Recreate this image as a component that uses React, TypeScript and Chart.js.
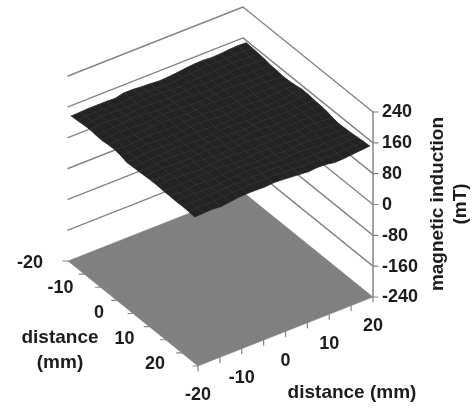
import React, { useEffect, useRef } from "react";
import { Chart, registerables } from "chart.js";

Chart.register(...registerables);

// ---- data ----
const distanceTickLabels = [-20, -10, 0, 10, 20];
const distanceTickMarks = [-20, -15, -10, -5, 0, 5, 10, 15, 20];
const inductionTickLabels = [240, 160, 80, 0, -80, -160, -240];
const gridA = [-19, -17.1, -15.2, -13.3, -11.4, -9.5, -7.6, -5.7, -3.8, -1.9, 0, 1.9, 3.8, 5.7, 7.6, 9.5, 11.4, 13.3, 15.2, 17.1, 19];
const gridB = [-20, -18, -16, -14, -12, -10, -8, -6, -4, -2, 0, 2, 4, 6, 8, 10, 12, 14, 16, 18, 20];
const inductionMT = [
  [143,144,145,145,145,144,149,149,147,146,144,145,147,150,152,153,151,152,154,155,154],
  [144,146,148,147,146,147,149,151,149,147,145,146,148,150,152,154,153,153,154,154,153],
  [146,147,149,150,148,147,148,150,151,149,147,146,149,151,150,152,154,155,153,153,152],
  [147,149,150,148,147,149,151,150,148,147,149,150,151,149,148,150,152,154,153,151,150],
  [145,146,148,149,151,150,148,146,147,149,151,149,147,146,148,151,153,151,149,148,147],
  [144,147,149,148,146,145,147,149,150,148,146,145,147,149,151,150,148,147,148,147,146],
  [146,148,146,145,147,149,150,148,146,145,147,149,150,148,146,147,149,150,148,146,144],
  [147,145,144,146,148,147,145,144,146,148,149,147,145,144,146,148,147,145,146,145,145],
  [144,143,145,147,146,144,143,145,147,148,146,144,143,145,147,146,144,145,147,148,147],
  [139,141,143,145,144,142,144,146,147,145,143,142,144,146,147,145,143,144,146,149,150],
  [140,141,142,143,145,146,145,143,142,144,146,147,145,143,144,146,147,146,147,150,150],
  [141,141,143,145,146,144,142,143,145,147,146,144,143,145,147,146,144,145,146,148,148],
  [142,144,145,143,142,144,146,147,145,143,142,144,146,147,145,143,144,146,147,148,147],
  [143,142,143,145,146,147,145,143,142,144,146,147,145,143,142,144,146,147,146,145,145],
  [143,145,146,144,143,142,144,146,147,145,143,142,144,146,145,143,142,144,145,143,141],
  [142,143,142,143,145,146,147,145,143,142,144,146,145,143,142,141,143,145,143,140,138],
  [142,141,143,145,144,143,145,147,146,144,143,144,143,141,142,144,143,141,140,139,139],
  [141,143,144,142,141,143,145,146,148,147,145,143,142,143,145,143,141,140,141,140,140],
  [142,141,142,143,144,145,146,148,147,146,147,145,143,142,141,142,141,140,142,143,142],
  [141,142,141,142,143,146,147,148,147,147,148,146,144,142,142,143,140,140,141,143,144],
  [140,141,142,140,143,146,147,147,146,148,147,145,143,141,143,142,138,139,141,143,145],
];

// ---- projection of (a, b, z) into the plane of the two linear scales ----
const CENTER_X = 220.5;
const CENTER_Y = 279;
const A_DX = 3.25;
const A_DY = 2.625;
const B_DX = 4.375;
const B_DY = -1.725;
const Z_SCALE = 185 / 480;

const project = (a: number, b: number, z: number) => ({
  x: CENTER_X + a * A_DX + b * B_DX,
  y: CENTER_Y + a * A_DY + b * B_DY - (z + 240) * Z_SCALE,
});

const AXIS_GREY = "#858585";
const FLOOR_GREY = "#808080";
const SURFACE_FILL = "#232323";
const MESH = "#353535";
const TEXT = "#1c1c1c";
const TICK_FONT = 'bold 18px "Liberation Sans", Arial, sans-serif';
const TITLE_FONT = 'bold 19px "Liberation Sans", Arial, sans-serif';

function line(data: { x: number; y: number }[], color: string, width: number, order: number, fill?: string) {
  return {
    data,
    showLine: true,
    pointRadius: 0,
    borderColor: color,
    borderWidth: width,
    backgroundColor: fill ?? "transparent",
    fill: fill ? "shape" : false,
    tension: 0,
    order,
    borderJoinStyle: "round" as const,
    borderCapStyle: "round" as const,
  };
}

function buildDatasets() {
  const ds: any[] = [];
  const zMax = inductionTickLabels[0];
  const zMin = inductionTickLabels[inductionTickLabels.length - 1];
  const lo = distanceTickMarks[0];
  const hi = distanceTickMarks[distanceTickMarks.length - 1];

  // back walls: one polyline per level
  for (const z of inductionTickLabels) {
    if (z === zMin) continue;
    ds.push(line([project(lo, lo, z), project(lo, hi, z), project(hi, hi, z)], AXIS_GREY, 1.4, 50));
  }
  // vertical axis and its ticks
  ds.push(line([project(hi, hi, zMin), project(hi, hi, zMax)], AXIS_GREY, 1.5, 50));
  for (const z of inductionTickLabels) {
    const p = project(hi, hi, z);
    ds.push(line([p, { x: p.x + 5, y: p.y }], AXIS_GREY, 1.2, 50));
  }
  // floor ticks
  for (const t of distanceTickMarks) {
    const p = project(t, lo, zMin);
    ds.push(line([p, { x: p.x - 5, y: p.y }], AXIS_GREY, 1.2, 45));
    const q = project(hi, t, zMin);
    ds.push(line([q, { x: q.x, y: q.y + 5 }], AXIS_GREY, 1.2, 45));
  }
  // floor (projection of the surface)
  ds.push(line([project(lo, lo, zMin), project(hi, lo, zMin), project(hi, hi, zMin), project(lo, hi, zMin), project(lo, lo, zMin)], FLOOR_GREY, 0.5, 40, FLOOR_GREY));

  // surface outline, filled
  const n = gridA.length - 1;
  const outline: { x: number; y: number }[] = [];
  for (let j = 0; j <= n; j++) outline.push(project(gridA[0], gridB[j], inductionMT[0][j]));
  for (let i = 1; i <= n; i++) outline.push(project(gridA[i], gridB[n], inductionMT[i][n]));
  for (let j = n - 1; j >= 0; j--) outline.push(project(gridA[n], gridB[j], inductionMT[n][j]));
  for (let i = n - 1; i >= 0; i--) outline.push(project(gridA[i], gridB[0], inductionMT[i][0]));
  ds.push(line(outline, SURFACE_FILL, 0.8, 30, SURFACE_FILL));

  // surface mesh
  for (let i = 1; i < n; i++) {
    ds.push(line(gridB.map((b, j) => project(gridA[i], b, inductionMT[i][j])), MESH, 0.8, 20));
  }
  for (let j = 1; j < n; j++) {
    ds.push(line(gridA.map((a, i) => project(a, gridB[j], inductionMT[i][j])), MESH, 0.8, 20));
  }
  return ds;
}

const textPlugin = {
  id: "axisText",
  afterDraw(chart: any) {
    const ctx: CanvasRenderingContext2D = chart.ctx;
    const sx = chart.scales.x;
    const sy = chart.scales.y;
    const lo = distanceTickMarks[0];
    const hi = distanceTickMarks[distanceTickMarks.length - 1];
    const zMin = inductionTickLabels[inductionTickLabels.length - 1];
    ctx.save();
    ctx.font = TICK_FONT;
    ctx.fillStyle = TEXT;

    ctx.textBaseline = "middle";
    ctx.textAlign = "right";
    for (const t of distanceTickLabels) {
      const p = project(t, lo, zMin);
      const k = t - lo;
      ctx.fillText(String(t), sx.getPixelForValue(p.x) - 25 - k * 0.2, sy.getPixelForValue(p.y) + 2 - k * 0.1);
    }
    ctx.textAlign = "center";
    for (const t of distanceTickLabels) {
      const p = project(hi, t, zMin);
      ctx.fillText(String(t), sx.getPixelForValue(p.x), sy.getPixelForValue(p.y) + 29.5);
    }
    ctx.textAlign = "left";
    for (const z of inductionTickLabels) {
      const p = project(hi, hi, z);
      ctx.fillText(String(z), sx.getPixelForValue(p.x) + 9, sy.getPixelForValue(p.y) + 0.5);
    }

    ctx.font = TITLE_FONT;
    ctx.textAlign = "center";
    ctx.fillText("distance", 60, 338);
    ctx.fillText("(mm)", 60, 363);
    ctx.fillText("distance (mm)", 352, 393);

    ctx.translate(438, 204);
    ctx.rotate(-Math.PI / 2);
    ctx.fillText("magnetic induction", 0, 0);
    ctx.rotate(Math.PI / 2);
    ctx.translate(23, 0);
    ctx.rotate(-Math.PI / 2);
    ctx.fillText("(mT)", 0, 0);
    ctx.restore();
  },
};

export default function App() {
  const ref = useRef<HTMLCanvasElement>(null);
  useEffect(() => {
    document.body.style.margin = "0";
    document.body.style.background = "#ffffff";
    const chart = new Chart(ref.current!, {
      type: "scatter",
      data: { datasets: buildDatasets() },
      options: {
        animation: false,
        responsive: false,
        devicePixelRatio: 1,
        layout: { padding: 0 },
        plugins: { legend: { display: false }, tooltip: { enabled: false } },
        scales: {
          x: { type: "linear", min: 0, max: 472, display: false },
          y: { type: "linear", min: 0, max: 410, reverse: true, display: false },
        },
      },
      plugins: [textPlugin],
    } as any);
    return () => chart.destroy();
  }, []);
  return <canvas ref={ref} width={472} height={410} style={{ display: "block" }} />;
}
